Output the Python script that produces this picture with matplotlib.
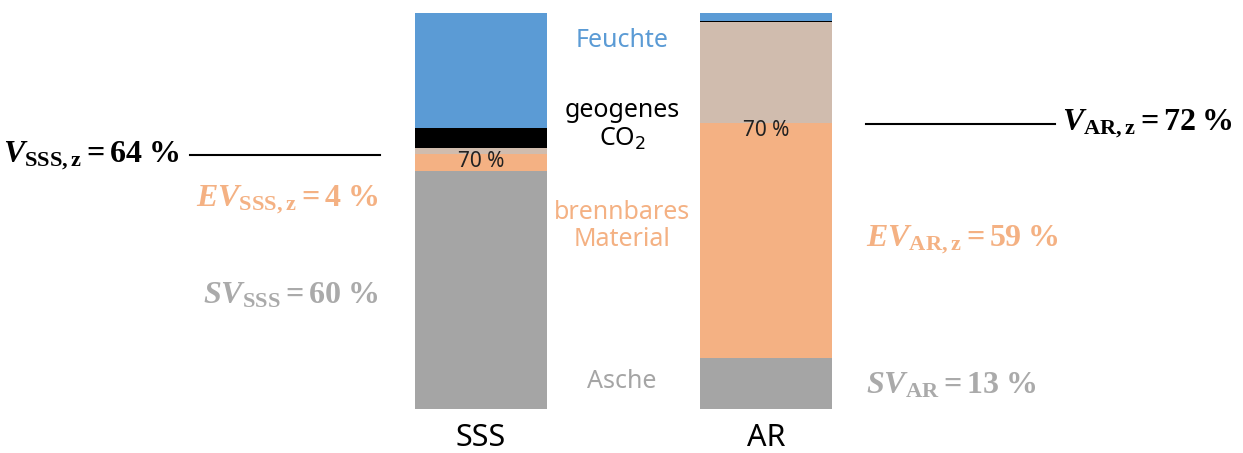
import matplotlib
matplotlib.use("Agg")
import matplotlib.pyplot as plt
import numpy as np

plt.rcParams['font.family'] = ['Noto Sans', 'DejaVu Sans']
plt.rcParams['mathtext.fontset'] = 'custom'
plt.rcParams['mathtext.rm'] = 'Liberation Serif:bold'
plt.rcParams['mathtext.it'] = 'Liberation Serif:italic:bold'
plt.rcParams['mathtext.bf'] = 'Liberation Serif:bold'

# ---- data ----
categories = ['SSS', 'AR']
layer_names = ['Asche', 'brennbares Material', 'Rest', 'geogenes CO2', 'Feuchte']
asche = [60.0, 13.0]
brennbar = [4.4, 59.3]
rest = [1.6, 25.3]
co2 = [5.0, 0.4]
feuchte = [29.0, 2.0]
threshold_label = '70 %'
v_values = [64, 72]
ev_values = [4, 59]
sv_values = [60, 13]

colors = ['#A5A5A5', '#F4B183', '#D0BCAE', '#000000', '#5B9BD5']
layers = [asche, brennbar, rest, co2, feuchte]

fig = plt.figure(figsize=(12.43, 4.53), dpi=100)
ax = fig.add_axes([0, 0.0965, 1, 0.8755])
x = np.arange(len(categories))
bottom = np.zeros(len(categories))
for vals, c, name in zip(layers, colors, layer_names):
    ax.bar(x, vals, width=0.463, bottom=bottom, color=c, label=name, linewidth=0)
    bottom += np.array(vals)

ax.set_xlim(-1.688, 2.674)
ax.set_ylim(0, 100)
for s in ax.spines.values():
    s.set_visible(False)
ax.set_yticks([])
ax.set_xticks(x)
ax.set_xticklabels(categories, fontsize=22)
ax.tick_params(axis='x', length=0, pad=10)

# 70 % labels at top of combustible layer
for i in range(len(categories)):
    top = asche[i] + brennbar[i]
    ax.text(x[i], top - 2.0, threshold_label, ha='center', va='center', fontsize=15, color='#222222')

# middle layer labels
mx = 0.495
fs_mid = 18
ax.text(mx, 93.1, 'Feuchte', color='#5B9BD5', ha='center', va='center', fontsize=fs_mid)
ax.text(mx, 71.7, 'geogenes\nCO$_2$', color='#000000', ha='center', va='center', fontsize=fs_mid,
        linespacing=1.15, math_fontfamily='dejavusans')
ax.text(mx, 46.2, 'brennbares\nMaterial', color='#F4B183', ha='center', va='center', fontsize=fs_mid,
        linespacing=1.15)
ax.text(mx, 6.9, 'Asche', color='#A5A5A5', ha='center', va='center', fontsize=fs_mid)

fs_m = 23
# SSS annotations
ax.plot([-1.021, -0.354], [v_values[0], v_values[0]], color='black', lw=1.5)
ax.text(-1.056, v_values[0], r'$V_{\mathrm{SSS,z}} = %d\;\%%$' % v_values[0], ha='right', va='center',
        fontsize=fs_m, color='black')
ax.text(-0.361, 52.8, r'$EV_{\mathrm{SSS,z}} = %d\;\%%$' % ev_values[0], ha='right', va='center',
        fontsize=fs_m, color='#F4B183')
ax.text(-0.361, 28.8, r'$SV_{\mathrm{SSS}} = %d\;\%%$' % sv_values[0], ha='right', va='center',
        fontsize=fs_m, color='#AAAAAA')

# AR annotations
ax.plot([1.351, 2.014], [v_values[1], v_values[1]], color='black', lw=1.5)
ax.text(2.039, v_values[1], r'$V_{\mathrm{AR,z}} = %d\;\%%$' % v_values[1], ha='left', va='center',
        fontsize=fs_m, color='black')
ax.text(1.351, 42.7, r'$EV_{\mathrm{AR,z}} = %d\;\%%$' % ev_values[1], ha='left', va='center',
        fontsize=fs_m, color='#F4B183')
ax.text(1.351, 6.1, r'$SV_{\mathrm{AR}} = %d\;\%%$' % sv_values[1], ha='left', va='center',
        fontsize=fs_m, color='#AAAAAA')

fig.savefig('out.png', dpi=100)
